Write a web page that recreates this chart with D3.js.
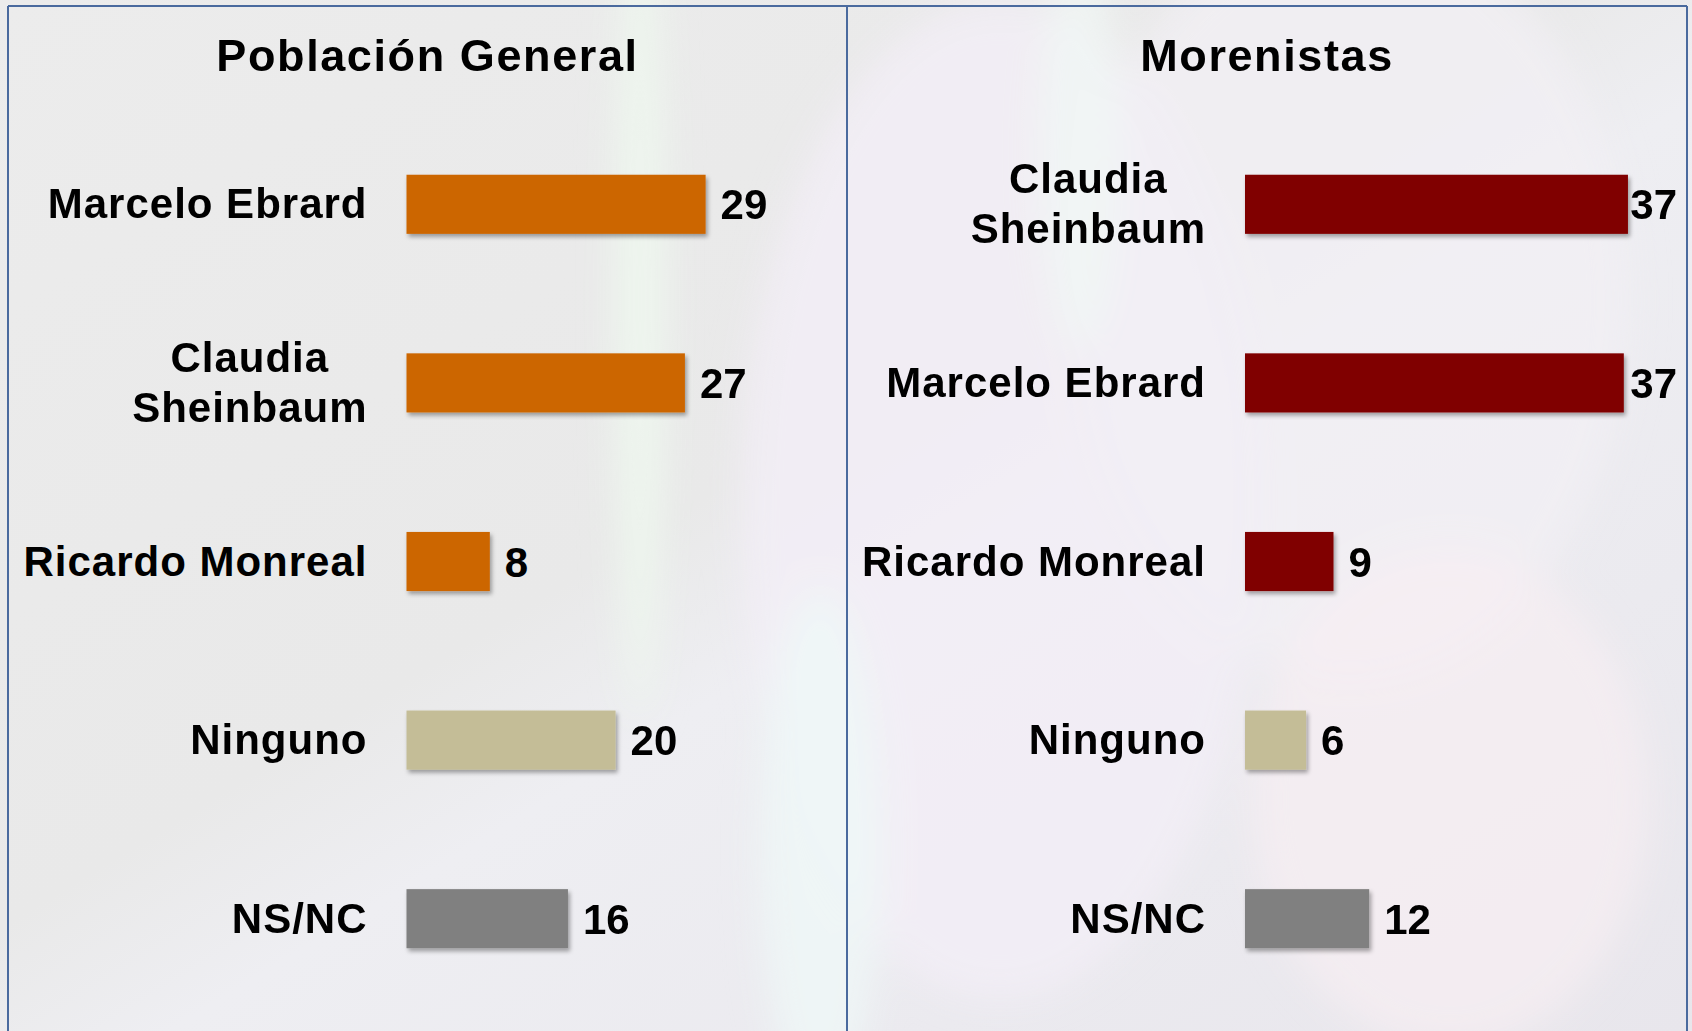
<!DOCTYPE html>
<html><head><meta charset="utf-8">
<script src="https://cdn.jsdelivr.net/npm/d3@7"></script>
<style>
html,body{margin:0;padding:0;background:#ececec;}
svg{display:block;}
</style></head>
<body>
<svg id="chart" width="1692" height="1031"></svg>
<script>
// ---- data ----
const titles = ["Población General", "Morenistas"];
const generalCategories = ["Marcelo Ebrard", "Claudia Sheinbaum", "Ricardo Monreal", "Ninguno", "NS/NC"];
const generalValues = [28.9, 26.9, 8.05, 20.2, 15.6];
const morenistasCategories = ["Claudia Sheinbaum", "Marcelo Ebrard", "Ricardo Monreal", "Ninguno", "NS/NC"];
const morenistasValues = [37.0, 36.6, 8.55, 5.9, 12.0];
const generalColors = ["#CC6600", "#CC6600", "#CC6600", "#C4BD97", "#808080"];
const morenistasColors = ["#800000", "#800000", "#800000", "#C4BD97", "#808080"];

const W = 1692, H = 1031;
const svg = d3.select("#chart");
const defs = svg.append("defs");

// background
const bg = defs.append("linearGradient").attr("id","bg").attr("x1","0").attr("y1","0").attr("x2","1").attr("y2","1");
bg.append("stop").attr("offset","0").attr("stop-color","#ececec");
bg.append("stop").attr("offset","0.45").attr("stop-color","#e9e9e9");
bg.append("stop").attr("offset","0.55").attr("stop-color","#eeeef2");
bg.append("stop").attr("offset","1").attr("stop-color","#e8e6ec");
svg.append("rect").attr("width",W).attr("height",H).attr("fill","url(#bg)");

const blur = defs.append("filter").attr("id","blur").attr("x","-50%").attr("y","-50%").attr("width","200%").attr("height","200%");
blur.append("feGaussianBlur").attr("stdDeviation",18);

const glow = svg.append("g").attr("filter","url(#blur)");
glow.append("ellipse").attr("cx",640).attr("cy",300).attr("rx",25).attr("ry",420).attr("fill","#eef7ee").attr("opacity",0.9);
glow.append("ellipse").attr("cx",1000).attr("cy",500).attr("rx",260).attr("ry",500).attr("fill","#f3eef6").attr("opacity",0.8);
glow.append("ellipse").attr("cx",1350).attr("cy",300).attr("rx",280).attr("ry",380).attr("fill","#f1eff4").attr("opacity",0.8);
glow.append("ellipse").attr("cx",1450).attr("cy",800).attr("rx",200).attr("ry",250).attr("fill","#f6eef2").attr("opacity",0.7);
glow.append("ellipse").attr("cx",820).attr("cy",850).attr("rx",60).attr("ry",260).attr("fill","#eef6f6").attr("opacity",0.9);
glow.append("ellipse").attr("cx",1080).attr("cy",150).attr("rx",40).attr("ry",200).attr("fill","#f0f6f4").attr("opacity",0.8);

// shadow filter for bars
const sh = defs.append("filter").attr("id","shadow").attr("x","-10%").attr("y","-20%").attr("width","130%").attr("height","160%");
sh.append("feDropShadow").attr("dx",2).attr("dy",3).attr("stdDeviation",2).attr("flood-color","#000").attr("flood-opacity",0.35);

// panels
const panels = [
  {x0: 8, x1: 847, title: titles[0], cats: generalCategories, vals: generalValues, cols: generalColors, barX: 406.5},
  {x0: 847, x1: 1687, title: titles[1], cats: morenistasCategories, vals: morenistasValues, cols: morenistasColors, barX: 1245}
];

const font = "'Liberation Sans', Arial, sans-serif";

panels.forEach(p => {
  const g = svg.append("g");
  g.append("text")
    .attr("x", (p.x0 + p.x1) / 2).attr("y", 71)
    .attr("text-anchor", "middle")
    .attr("font-family", font).attr("font-weight", "bold")
    .attr("font-size", 45).attr("letter-spacing", 1.6)
    .attr("fill", "#000")
    .text(p.title);

  const y = d3.scaleBand().domain(p.cats).range([115, 1008]).paddingInner(0.669).paddingOuter(0.3345);
  const x = d3.scaleLinear().domain([0, 40]).range([p.barX, p.barX + 414]);

  p.cats.forEach((c, i) => {
    const v = p.vals[i];
    const yc = y(c) + y.bandwidth() / 2;
    g.append("rect")
      .attr("x", x(0)).attr("y", y(c))
      .attr("width", x(v) - x(0)).attr("height", y.bandwidth())
      .attr("fill", p.cols[i])
      .attr("filter", "url(#shadow)");

    // category label
    const words = c.split(" ");
    const labelRight = p.barX - 39;
    if (c === "Claudia Sheinbaum") {
      const t = g.append("text")
        .attr("font-family", font).attr("font-weight", "bold")
        .attr("font-size", 42).attr("letter-spacing", 1)
        .attr("text-anchor", "middle").attr("fill", "#000");
      const t1 = t.append("tspan").text(words[0]);
      const t2 = t.append("tspan").text(words[1]);
      const w = Math.max(t1.node().getComputedTextLength(), t2.node().getComputedTextLength());
      const cx = labelRight - w / 2;
      t1.attr("x", cx).attr("y", yc - 11);
      t2.attr("x", cx).attr("y", yc + 39);
    } else {
      g.append("text")
        .attr("x", labelRight).attr("y", yc + 14)
        .attr("text-anchor", "end")
        .attr("font-family", font).attr("font-weight", "bold")
        .attr("font-size", 42).attr("letter-spacing", 1)
        .attr("fill", "#000")
        .text(c);
    }

    // value label
    const vt = g.append("text")
      .attr("y", yc + 15)
      .attr("font-family", font).attr("font-weight", "bold")
      .attr("font-size", 42)
      .attr("fill", "#000")
      .text(d3.format("d")(v));
    const tw = vt.node().getComputedTextLength();
    const lx = Math.min(x(v) + 15, p.x1 - 10 - tw);
    vt.attr("x", lx);
  });
});

// borders
const border = svg.append("g").attr("stroke", "#4a6a9e").attr("stroke-width", 2).attr("fill", "none");
border.append("line").attr("x1", 8).attr("y1", 6).attr("x2", 1687).attr("y2", 6);
border.append("line").attr("x1", 8).attr("y1", 6).attr("x2", 8).attr("y2", H);
border.append("line").attr("x1", 847).attr("y1", 6).attr("x2", 847).attr("y2", H);
border.append("line").attr("x1", 1687).attr("y1", 6).attr("x2", 1687).attr("y2", H);
</script>
</body></html>
